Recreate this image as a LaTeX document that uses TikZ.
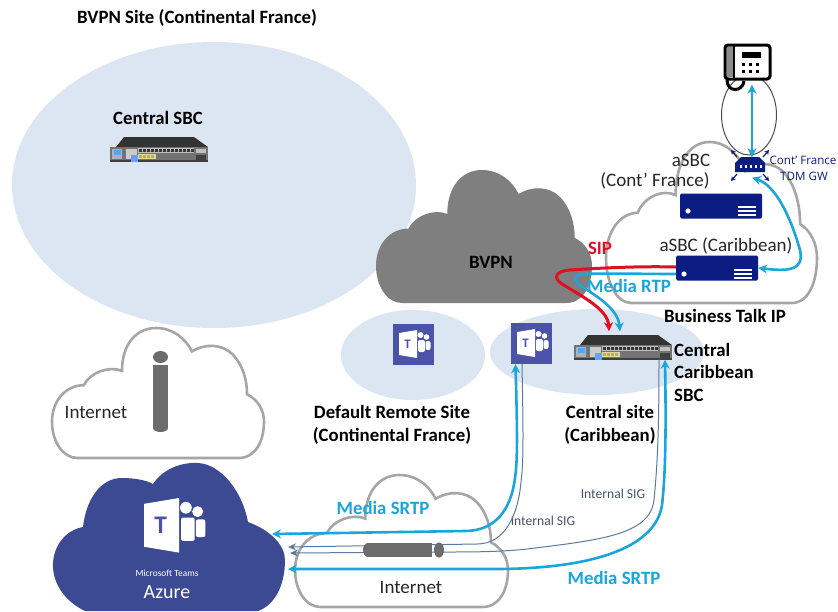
\documentclass[tikz,border=0pt]{standalone}
\usepackage{fontspec}
\setmainfont{Carlito}
\newfontfamily\gwfont{Open Sans}
\usetikzlibrary{arrows.meta,calc}
\definecolor{paleblue}{HTML}{DCE6F2}
\definecolor{cloudgrey}{HTML}{A6A6A6}
\definecolor{bvpngrey}{HTML}{7F7F7F}
\definecolor{linkblue}{HTML}{1AA5DB}
\definecolor{sipred}{HTML}{E01020}
\definecolor{azure}{HTML}{3C4A94}
\definecolor{teamsbg}{HTML}{4A53A8}
\definecolor{navy}{HTML}{0B1C82}
\definecolor{slate}{HTML}{5E7A9A}
\definecolor{sigtext}{HTML}{44546A}
\newcommand{\cloudshape}{(.12,1) .. controls (.05,1) and (0,.87) .. (0,.72)
 .. controls (0,.55) and (.07,.44) .. (.15,.44)
 .. controls (.18,.34) and (.27,.29) .. (.33,.33)
 .. controls (.33,.12) and (.40,0) .. (.49,0)
 .. controls (.57,0) and (.63,.08) .. (.66,.18)
 .. controls (.72,.12) and (.80,.12) .. (.85,.2)
 .. controls (.90,.28) and (.92,.4) .. (.92,.51)
 .. controls (.97,.55) and (1,.63) .. (1,.72)
 .. controls (1,.87) and (.96,1) .. (.88,1) -- cycle}
\tikzset{
 x=1pt,y=-1pt,
 site/.style={fill=paleblue,draw=none},
 outlinecloud/.style={draw=cloudgrey,line width=2.6pt,fill=white},
 lbl/.style={font=\fontsize{18.8}{22.5}\selectfont\bfseries,inner sep=0pt,align=center},
 plain/.style={font=\fontsize{19}{22}\selectfont,inner sep=0pt,text=black!85},
 bluelbl/.style={font=\fontsize{18.8}{22}\selectfont\bfseries,inner sep=0pt,text=linkblue},
 siglbl/.style={font=\fontsize{13.6}{15}\selectfont,inner sep=0pt,text=sigtext},
 gwlbl/.style={font=\gwfont\fontsize{11.6}{13}\selectfont,inner sep=0pt,text=navy},
 media/.style={draw=linkblue,line width=2.6pt},
 sip/.style={draw=sipred,line width=3pt},
 siglink/.style={draw=slate,line width=1pt},
 tipB/.style={-{Stealth[length=9pt,width=9pt]}},
 tipBB/.style={{Stealth[length=9pt,width=9pt]}-{Stealth[length=9pt,width=9pt]}},
 tipS/.style={-{Stealth[length=8pt,width=7pt]}},
 serverbox/.style={fill=navy,rounded corners=1.5pt,minimum width=82pt,minimum height=25pt,inner sep=0pt,draw=none},
 sbcbox/.style={minimum width=98pt,minimum height=25pt,inner sep=0pt,draw=none},
 tile/.style={fill=teamsbg,minimum size=41pt,inner sep=0pt,draw=none},
 pics/sbcdev/.style={code={
   \fill[black!80] (6,10) -- (14,0) -- (84,0) -- (98,10) -- cycle;
   \fill[black!55] (0,10) rectangle (98,25);
   \fill[black!75] (0,23) rectangle (98,25);
   \fill[black!30] (2,12) rectangle (12,22);
   \fill[blue!50!cyan!70] (4,13) rectangle (11,18);
   \fill[black!20] (16,12) rectangle (27,22);
   \fill[blue!60!cyan!60] (21,18) rectangle (28,25);
   \fill[black!25] (28,11) rectangle (84,16);
   \foreach \k in {0,...,13}{\fill[black!80] (29+\k*4,12) rectangle (31.5+\k*4,15);}
   \fill[yellow!60!black!40] (28,17) rectangle (46,22);
   \foreach \k in {0,...,3}{\fill[yellow!70!black] (29+\k*4,18) rectangle (31.5+\k*4,20.5);}
   \fill[black!25] (86,12) rectangle (96,16);
   \fill[black!75] (86,18) rectangle (96,23);
 }},
 pics/teamsglyph/.style={code={
   \fill[white] (0,3) -- (18,0) -- (18,28) -- (0,25) -- cycle;
   \fill[white] (21.5,5) circle (3);
   \fill[white] (27.5,7) circle (2.8);
   \fill[white,rounded corners=2pt] (19,10) rectangle (26,22);
   \fill[white,rounded corners=2pt] (26.6,11) rectangle (31.5,20);
   \node[transform shape,text=teamsbg,font=\fontsize{13}{13}\selectfont\bfseries,inner sep=0pt] at (8.5,14) {T};
 }},
 pics/serverdeco/.style={code={
   \fill[white] (8,18) circle (2.6);
   \foreach \yy in {13,17,21}{\fill[white] (58,\yy) rectangle (76,\yy+1.5);}
 }},
}
\begin{document}
\begin{tikzpicture}
\useasboundingbox (0,0) rectangle (838,611);
\fill[white] (0,0) rectangle (838,611);

% sites
\fill[site] (214,185) ellipse [x radius=202,y radius=143];
\fill[site] (413,355) ellipse [x radius=72,y radius=45];
\fill[site] (597,352) ellipse [x radius=107,y radius=43];
\draw[black!70,line width=1pt] (749,115) ellipse [x radius=27.5,y radius=40];

% clouds
\draw[outlinecloud,shift={(52,328)},xscale=212,yscale=130] \cloudshape;
\draw[outlinecloud,shift={(606,142)},xscale=211,yscale=161] \cloudshape;
\draw[outlinecloud,shift={(295,475)},xscale=213,yscale=132] \cloudshape;
\fill[bvpngrey,shift={(376,170)},xscale=216,yscale=133] \cloudshape;
% Azure
\fill[azure] (85,611) .. controls (62,600) and (52,580) .. (53,563)
 .. controls (54,545) and (66,530) .. (83,527)
 .. controls (86,500) and (100,478) .. (122,478)
 .. controls (134,478) and (146,480) .. (153,484)
 .. controls (162,470) and (180,462) .. (198,463)
 .. controls (220,464) and (242,490) .. (248,522)
 .. controls (270,530) and (285,545) .. (285,560)
 .. controls (285,585) and (275,605) .. (258,611) -- cycle;

% devices
\pic at (110,137) {sbcdev};
\node[sbcbox] (csbc) at (623,347) {};
\pic at (574,335) {sbcdev};
\node[serverbox] (asbcfr) at (721,206) {};
\pic at (680,193) {serverdeco};
\node[serverbox] (asbccar) at (717,268) {};
\pic at (676,256) {serverdeco};
\node[tile] (teamsA) at (413.5,344.5) {};
\pic at (399,330) {teamsglyph};
\node[tile] (teamsB) at (531.5,343.5) {};
\pic at (517,329) {teamsglyph};
\pic[scale=1.95] at (144,498) {teamsglyph};

% phone
\node[minimum width=45pt,minimum height=35pt,inner sep=0pt] (phone) at (748,62) {};
\draw[black,line width=3pt,rounded corners=3pt,fill=white] (725,45) rectangle (770,79);
\fill[black!45] (727,47) rectangle (733,77);
\draw[black,line width=1.2pt] (734,45) -- (734,79);
\fill[black] (742,52) rectangle (761,58);
\foreach \a in {742,749,756}{\foreach \b in {63,70}{\fill[black] (\a,\b) rectangle (\a+3.4,\b+3.4);}}
\draw[black,line width=3pt] (727,80) .. controls (727,93) and (743,92) .. (744,81);

% TDM gateway
\node[inner sep=0pt,minimum width=30pt,minimum height=15pt] (gw) at (750,165) {};
\fill[navy] (741,157) -- (759,157) -- (765,163) -- (765,172) -- (735,172) -- (735,163) -- cycle;
\foreach \p in {741,746,751,756,761}{\fill[white] (\p-1,165) rectangle (\p+1,168);}
\foreach \xa/\ya/\xb/\yb in {737/157/731/150,763/157/769/150,737/174/731/181,763/174/769/181}
 \draw[navy,line width=1.2pt,-{Stealth[length=4.5pt,width=5pt]}] (\xa,\ya) -- (\xb,\yb);

% labels
\node[lbl,anchor=west] (ttl) at (77,18) {BVPN Site (Continental France)};
\node[lbl] (tsbc) at (158,118) {Central SBC};
\node[lbl] (tbv) at (491,262) {BVPN};
\node[plain] (t1) at (691,160) {aSBC};
\node[plain] (t2) at (655,181) {(Cont’ France)};
\node[plain] (t3) at (726,246) {aSBC (Caribbean)};
\node[gwlbl] (t4) at (803,160) {Cont’ France};
\node[gwlbl] (t5) at (804,176) {TDM GW};
\node[lbl,text=sipred] (t6) at (600,248) {SIP};
\node[lbl] (t8) at (725,316) {Business Talk IP};
\node[lbl,align=left,anchor=north west] (t9) at (674,343) {Central\\Caribbean\\SBC};
\node[lbl] (t10) at (392,425) {Default Remote Site\\(Continental France)};
\node[lbl] (t11) at (610,425) {Central site\\(Caribbean)};
\node[plain] (t12) at (96,412) {Internet};
\node[plain] (t13) at (411,587) {Internet};
\node[siglbl] (t14) at (543,521) {Internal SIG};
\node[siglbl] (t15) at (613,494) {Internal SIG};
\node[font=\fontsize{9.4}{11}\selectfont,text=white,inner sep=0pt] (t16) at (167,573) {Microsoft Teams};
\node[font=\fontsize{20}{22}\selectfont,text=white,inner sep=0pt] (t17) at (167,592) {Azure};

% free ends
\coordinate (azA) at (272,534);
\coordinate (azB) at (288,547);
\coordinate (azC) at (290,553);
\coordinate (azD) at (288,569);

% connectors
\draw[media,tipBB] ([xshift=4pt,yshift=-5pt]phone.south) -- ([xshift=2pt]gw.north);
\draw[media,tipBB] (asbccar.east) .. controls (785,271) and (805,272) .. (800,250) .. controls (790,215) and (775,185) .. ([xshift=2pt,yshift=-5pt]gw.south);
\draw[sip,tipB] ([yshift=1pt]asbccar.west) .. controls (640,266) and (600,268) .. (570,270) .. controls (555,271) and (553,278) .. (562,284) .. controls (585,298) and (608,310) .. ([xshift=-14pt,yshift=3pt]csbc.north);
\draw[media,tipB] ([yshift=-6pt]asbccar.west) .. controls (640,274) and (600,273) .. (583,274) .. controls (572,275) and (574,281) .. (581,286) .. controls (600,298) and (618,310) .. ([xshift=-3pt,yshift=3pt]csbc.north);
\draw[media,tipBB] ([xshift=-16pt]teamsB.south) .. controls (517,420) and (518,460) .. (515,478) .. controls (511,510) and (495,531) .. (465,531) -- (azA);
\draw[siglink,tipS] ([xshift=-9.5pt]teamsB.south) .. controls (523,420) and (524,460) .. (521,482) .. controls (518,515) and (505,544) .. (477,544) -- (azB);
\draw[siglink,tipS] ([xshift=36pt]csbc.south) .. controls (659,420) and (658,460) .. (654,500) .. controls (650,535) and (600,540) .. (527,549) .. controls (500,552) and (470,552) .. (445,552) -- (azC);
\draw[media,tipBB] ([xshift=42pt]csbc.south) .. controls (666,420) and (666,470) .. (662,505) .. controls (656,545) and (600,568) .. (500,569) -- (azD);

% tunnels
\fill[bvpngrey!85!black] (153,365) rectangle (168,428);
\fill[bvpngrey!85!black] (160.5,428) ellipse [x radius=7.5,y radius=4];
\fill[bvpngrey!85!black] (160.5,357) ellipse [x radius=7.5,y radius=6];
\fill[bvpngrey!85!black] (368,543) rectangle (432,557);
\fill[bvpngrey!85!black] (368,550) ellipse [x radius=5,y radius=7];
\fill[bvpngrey!85!black] (439,550) ellipse [x radius=5,y radius=7.5];

\node[bluelbl] (t7) at (629,286) {Media RTP};
\node[bluelbl] (t18) at (383,508) {Media SRTP};
\node[bluelbl] (t19) at (614,578) {Media SRTP};
\end{tikzpicture}
\end{document}
